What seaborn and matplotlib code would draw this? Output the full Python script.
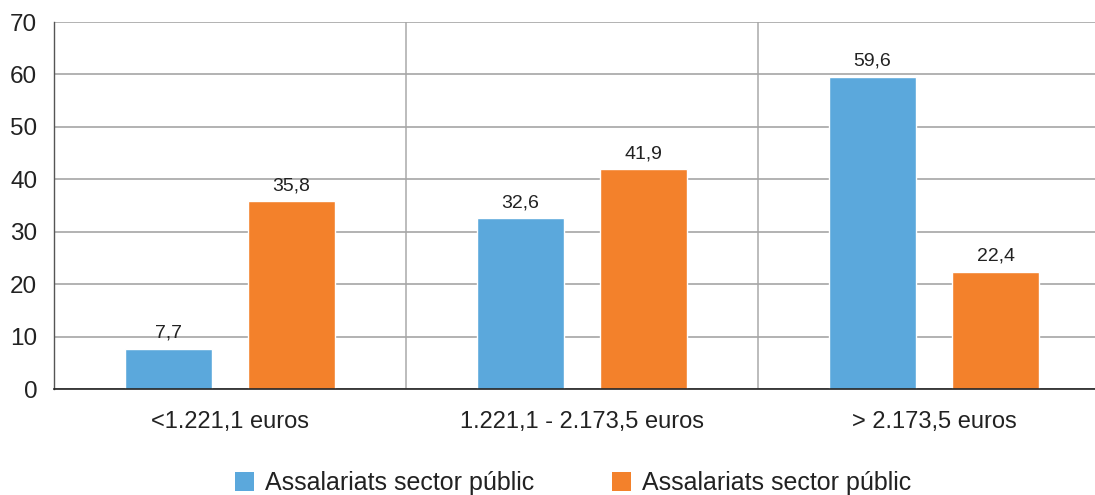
import matplotlib
matplotlib.use("Agg")
import matplotlib.pyplot as plt
from matplotlib.patches import Patch
import seaborn as sns
import pandas as pd

# Data
categories = ["<1.221,1 euros", "1.221,1 - 2.173,5 euros", "> 2.173,5 euros"]
series_keys = ["serie_1", "serie_2"]
series_labels = ["Assalariats sector públic", "Assalariats sector públic"]
values_1 = [7.7, 32.6, 59.6]
values_2 = [35.8, 41.9, 22.4]
colors = ["#5BA8DC", "#F3812B"]

df = pd.DataFrame({
    "categoria": categories * 2,
    "serie": [series_keys[0]] * 3 + [series_keys[1]] * 3,
    "valor": values_1 + values_2,
})

sns.set_theme(style="white")
plt.rcParams["font.family"] = ["Liberation Sans", "DejaVu Sans"]

W, H = 1095, 495
fig = plt.figure(figsize=(W / 100, H / 100), dpi=100)
x0, x1 = 54, 1110
y0, y1 = 389, 22
ax = fig.add_axes([x0 / W, (H - y0) / H, (x1 - x0) / W, (y0 - y1) / H])

sns.barplot(data=df, x="categoria", y="valor", hue="serie", order=categories,
            hue_order=series_keys, palette=colors, width=0.7, gap=0.295,
            saturation=1, legend=False, ax=ax, errorbar=None)

ax.set_xlim(-0.5, 2.5)
ax.set_ylim(0, 70)
ax.set_yticks(range(0, 71, 10))
ax.yaxis.grid(True, color="#a6a6a6", linewidth=1.2)
for xv in [0.5, 1.5]:
    ax.axvline(xv, color="#b0b0b0", linewidth=1.2, zorder=0)
ax.set_axisbelow(True)

for side in ["top", "right"]:
    ax.spines[side].set_visible(False)
ax.spines["left"].set_color("#555555")
ax.spines["left"].set_linewidth(1.0)
ax.spines["bottom"].set_color("#222222")
ax.spines["bottom"].set_linewidth(1.2)

ax.set_xlabel("")
ax.set_ylabel("")
ax.tick_params(axis="y", length=0, pad=12, labelsize=17.5, labelcolor="#222222")
ax.tick_params(axis="x", length=0, pad=15.5, labelsize=17, labelcolor="#222222")

for container in ax.containers:
    ax.bar_label(container, labels=[f"{v:.1f}".replace(".", ",") for v in container.datavalues],
                 padding=5, fontsize=14, color="#222222")

handles = [Patch(facecolor=c, edgecolor="none") for c in colors]
fig.legend(handles, series_labels, loc="center", bbox_to_anchor=(573 / W, (H - 483) / H),
           ncol=2, frameon=False, fontsize=18, handlelength=0.76, handleheight=0.76,
           handletextpad=0.44, columnspacing=3.1, labelcolor="#222222",
           borderpad=0, borderaxespad=0)

fig.savefig("out.png", dpi=100)
